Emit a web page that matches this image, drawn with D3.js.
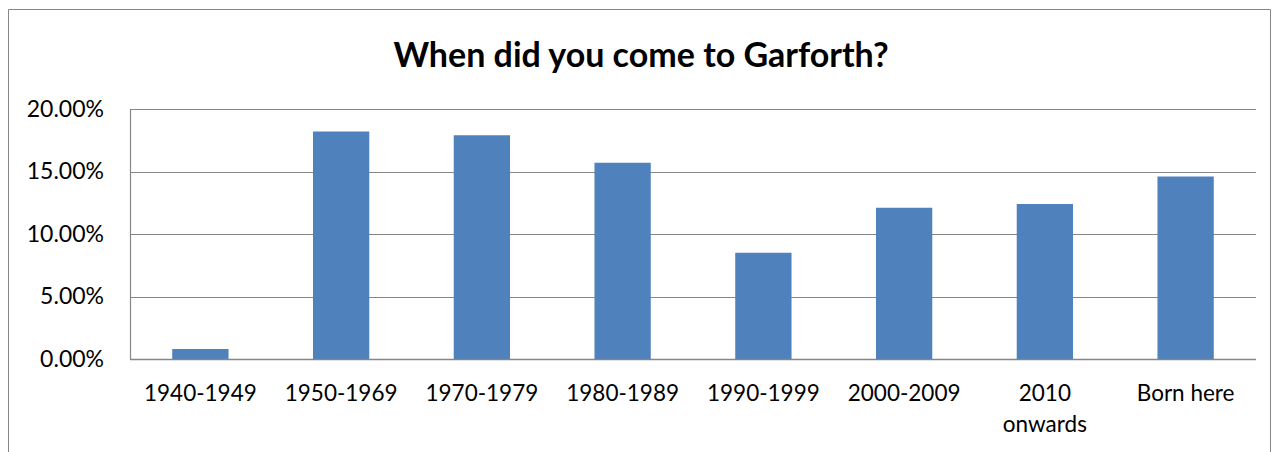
<!DOCTYPE html>
<html>
<head>
<meta charset="utf-8">
<script src="https://cdn.jsdelivr.net/npm/d3@7"></script>
<style>
  body { margin: 0; background: #fff; }
  text { font-family: Lato, "Liberation Sans", sans-serif; fill: #000; }
</style>
</head>
<body>
<div class="chart"></div>
<script>
// chart data
var categories = ["1940-1949", "1950-1969", "1970-1979", "1980-1989", "1990-1999", "2000-2009", "2010 onwards", "Born here"];
var shares = [0.008, 0.182, 0.179, 0.157, 0.085, 0.121, 0.124, 0.146];
var yTicks = [0, 0.05, 0.10, 0.15, 0.20];
var title = "When did you come to Garforth?";

var svgWidth = 1276;
var svgHeight = 452;

// plot area
var margin = { top: 109, right: 20, bottom: 93, left: 130 };
var chartWidth = svgWidth - margin.left - margin.right;
var chartHeight = svgHeight - margin.top - margin.bottom;

var svg = d3.select(".chart")
    .append("svg")
    .attr("width", svgWidth)
    .attr("height", svgHeight);

// outer chart border (runs off the bottom of the picture)
svg.append("path")
    .attr("d", "M8.5,470V9.5H1270.5V470")
    .attr("fill", "none")
    .attr("stroke", "#868686")
    .attr("stroke-width", 1);

svg.append("text")
    .attr("x", 641)
    .attr("y", 67)
    .attr("text-anchor", "middle")
    .attr("font-size", 34)
    .attr("font-weight", "bold")
    .text(title);

var chart = svg.append("g")
    .attr("transform", "translate(" + margin.left + "," + margin.top + ")");

var x = d3.scaleBand()
    .domain(categories)
    .range([0, chartWidth])
    .paddingInner(0.6)
    .paddingOuter(0.3);

var y = d3.scaleLinear()
    .domain([0, 0.20])
    .range([chartHeight, 0]);

// gridlines
chart.append("g")
    .selectAll("line")
    .data(yTicks)
    .enter()
    .append("line")
    .attr("x1", 0)
    .attr("x2", chartWidth)
    .attr("y1", function(d) { return Math.round(y(d)) + 0.5; })
    .attr("y2", function(d) { return Math.round(y(d)) + 0.5; })
    .attr("stroke", "#868686")
    .attr("stroke-width", 1.2);

// bars
chart.append("g")
    .selectAll("rect")
    .data(shares)
    .enter()
    .append("rect")
    .attr("x", function(d, i) { return x(categories[i]); })
    .attr("y", function(d) { return y(d); })
    .attr("width", x.bandwidth())
    .attr("height", function(d) { return chartHeight - y(d); })
    .attr("fill", "#4F81BD");

// left axis
var leftAxis = d3.axisLeft(y)
    .tickValues(yTicks)
    .tickSize(0)
    .tickPadding(26)
    .tickFormat(d3.format(".2%"));

var yAxisG = chart.append("g").call(leftAxis);
yAxisG.select(".domain").attr("stroke", "#868686").attr("stroke-width", 1.2);
yAxisG.selectAll("text").attr("font-size", 23).attr("font-family", "Lato, sans-serif");

// bottom axis labels, wrapped like the original
var xAxisG = chart.append("g")
    .attr("transform", "translate(0," + chartHeight + ")");

xAxisG.append("line")
    .attr("x1", 0)
    .attr("x2", chartWidth)
    .attr("y1", 0.5)
    .attr("y2", 0.5)
    .attr("stroke", "#868686")
    .attr("stroke-width", 1.5);

var labels = xAxisG.selectAll("text.cat")
    .data(categories)
    .enter()
    .append("text")
    .attr("class", "cat")
    .attr("text-anchor", "middle")
    .attr("font-size", 22.5)
    .attr("x", function(d) { return x(d) + x.bandwidth() / 2; });

labels.each(function(d) {
    var parts = d === "2010 onwards" ? ["2010", "onwards"] : [d];
    var t = d3.select(this);
    parts.forEach(function(p, k) {
        t.append("tspan")
            .attr("x", x(d) + x.bandwidth() / 2)
            .attr("y", 42 + k * 31)
            .text(p);
    });
});
</script>
</body>
</html>
